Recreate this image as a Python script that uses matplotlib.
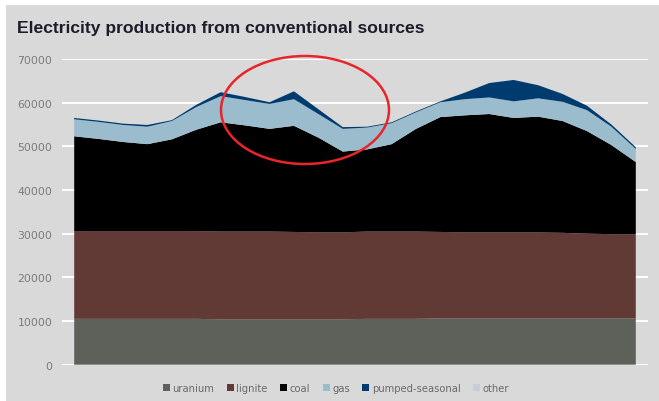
import matplotlib
matplotlib.use("Agg")
import matplotlib.pyplot as plt
from matplotlib.patches import Ellipse, Rectangle
import numpy as np

# ---- data ----
periods = list(range(24))
uranium = [10500, 10500, 10500, 10500, 10500, 10500, 10400, 10400, 10400, 10400, 10400, 10400,
           10500, 10500, 10500, 10600, 10600, 10600, 10600, 10600, 10600, 10600, 10600, 10600]
lignite = [20100, 20100, 20100, 20100, 20100, 20100, 20100, 20100, 20100, 20000, 19900, 19900,
           20000, 20000, 20000, 19800, 19700, 19700, 19700, 19700, 19600, 19400, 19300, 19300]
coal = [21700, 21100, 20400, 19900, 21000, 23200, 25000, 24300, 23500, 24300, 21700, 18500,
        18800, 20000, 23500, 26300, 26800, 27100, 26200, 26500, 25600, 23500, 20400, 16500]
gas = [3900, 3900, 3900, 4000, 4200, 5200, 6000, 5800, 5700, 6100, 5400, 5200,
       5000, 4800, 3800, 3400, 3700, 3800, 3800, 4200, 4400, 4800, 4200, 3000]
pumped = [300, 300, 300, 400, 200, 500, 900, 700, 400, 1800, 1100, 400,
          200, 200, 200, 200, 1500, 3300, 4900, 3000, 1800, 1000, 500, 400]
other = [0, 0, 0, 0, 0, 0, 0, 0, 0, 0, 0, 0,
         0, 0, 0, 0, 0, 0, 0, 0, 0, 0, 0, 0]
series_names = ["uranium", "lignite", "coal", "gas", "pumped-seasonal", "other"]
y_ticks = [0, 10000, 20000, 30000, 40000, 50000, 60000, 70000]
title = "Electricity production from conventional sources"

colors = ["#5e605a", "#613a36", "#000000", "#9bbccc", "#003b6f", "#c6cdd5"]
bg = "#d9d9d9"

W, H = 659, 402
fig = plt.figure(figsize=(W / 100, H / 100), dpi=100, facecolor="white")

# gray panel background
fig.patches.append(Rectangle((6 / W, 0), 1 - 6 / W, 1 - 6 / H, transform=fig.transFigure,
                             facecolor=bg, edgecolor="none", zorder=-10))

ax = fig.add_axes([62 / W, (H - 365.7) / H, (648 - 62) / W, (365.7 - 60) / H])
ax.set_facecolor(bg)
ax.stackplot(periods, uranium, lignite, coal, gas, pumped, other,
             colors=colors, labels=series_names, zorder=2, linewidth=0)
ax.set_xlim(-0.5, 23.5)
ax.set_ylim(0, 70000)
ax.set_yticks(y_ticks)
ax.set_yticklabels([str(v) for v in y_ticks], fontsize=7.8, color="#7a7a7a",
                   fontfamily="DejaVu Sans")
ax.set_xticks([])
ax.tick_params(axis="y", length=0, pad=7)
for s in ax.spines.values():
    s.set_visible(False)
ax.grid(axis="y", color="white", linewidth=1.4, zorder=0)
ax.set_axisbelow(True)

fig.text(17 / W, 1 - 33 / H, title, fontsize=12.6, fontweight="bold",
         color="#1c1c2a", fontfamily="Liberation Sans", va="baseline", ha="left")

handles, labels = ax.get_legend_handles_labels()
leg = fig.legend(handles, labels, loc="center", bbox_to_anchor=(336 / W, 1 - 389 / H),
                 ncol=6, frameon=False, fontsize=7.2, handlelength=0.7, handleheight=0.7,
                 handletextpad=0.25, columnspacing=1.25, labelcolor="#6a6a6a")

# red ellipse annotation
fig.patches.append(Ellipse((305 / W, 1 - 111 / H), 168 / W, 108 / H, transform=fig.transFigure,
                           facecolor="none", edgecolor="#e8262a", linewidth=1.8, zorder=10))

fig.savefig("out.png", dpi=100, facecolor="white")
